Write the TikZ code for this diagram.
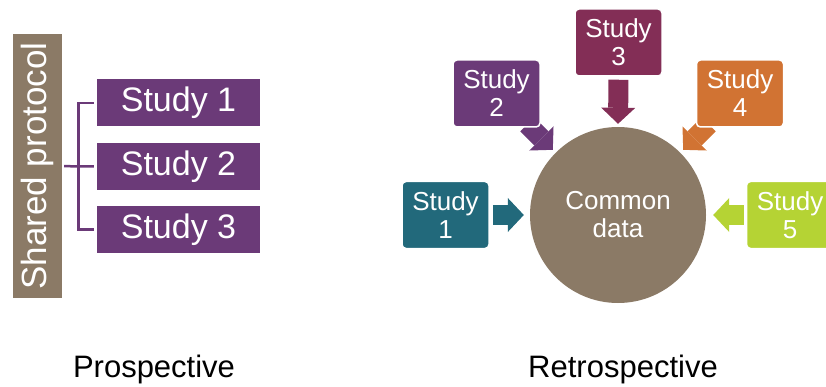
\documentclass[tikz,border=0pt]{standalone}
\usepackage{fontspec}
\setmainfont{Liberation Sans}
\usetikzlibrary{arrows.meta,calc}

\definecolor{protobrown}{HTML}{8B7A66}
\definecolor{studypurple}{HTML}{6B3A78}
\definecolor{studymaroon}{HTML}{832E56}
\definecolor{studyorange}{HTML}{D17333}
\definecolor{studylime}{HTML}{B5D334}
\definecolor{studyteal}{HTML}{22697B}

\begin{document}
\begin{tikzpicture}[x=1pt,y=-1pt,
  studybox/.style={fill=studypurple,text=white,minimum width=163pt,minimum height=47pt,inner sep=0pt,font=\fontsize{34}{40}\selectfont},
  roundbox/.style={fill=#1,draw=white,line width=1.5pt,rounded corners=4pt,text=white,minimum width=87pt,minimum height=67pt,inner sep=0pt,align=center,font=\fontsize{26}{28}\selectfont},
  bigarrow/.style={draw=#1,line width=20pt,-{Triangle[length=16pt,width=34pt,line width=0pt]}},
  bracket/.style={studypurple,line width=2.5pt}]

\useasboundingbox (0,0) rectangle (826,387);
\begin{scope}
\clip (0,0) rectangle (826,387);

% prospective
\node[fill=protobrown,rotate=90,minimum width=264pt,minimum height=49pt,inner sep=0pt,text=white,font=\fontsize{35}{40}\selectfont] (shared) at (37.5,166) {Shared protocol};
\foreach \n/\y in {1/103,2/166.5,3/229.5}
  \node[studybox] (p\n) at (178.5,\y) {Study \n};
\coordinate (fork) at (78.5,166.5);
\draw[bracket,shorten <=2pt,shorten >=3pt] (shared.south) -- (fork) -- (p2.west);
\draw[bracket,shorten <=3pt,shorten >=3pt] (p1.west) -| (fork) |- (p3.west);

% retrospective
\node[circle,fill=protobrown,minimum size=176pt,inner sep=0pt,text=white,align=center,font=\fontsize{26}{28}\selectfont] (data) at (618,215) {Common\\data};
\draw[bigarrow=studypurple,shorten >=4pt] ($(data.135)+(135:40pt)$) -- (data.135);
\draw[bigarrow=studyorange,shorten >=4pt] ($(data.45)+(45:40pt)$) -- (data.45);

\node[roundbox=studyteal] (s1) at (445.5,215) {Study\\1};
\node[roundbox=studypurple] (s2) at (496.5,93.5) {Study\\2};
\node[roundbox=studymaroon] (s3) at (618.5,42.5) {Study\\3};
\node[roundbox=studyorange] (s4) at (740,93.5) {Study\\4};
\node[roundbox=studylime] (s5) at (790,215) {Study\\5};

\draw[bigarrow=studyteal,shorten <=3pt,shorten >=6pt] (s1.east) -- (data.west);
\draw[bigarrow=studymaroon,shorten <=3pt,shorten >=3pt] (s3.south) -- (data.north);
\draw[bigarrow=studylime,shorten <=2pt,shorten >=7pt] (s5.west) -- (data.east);

\node[anchor=base,font=\fontsize{31}{36}\selectfont] (pro) at (154,377) {Prospective};
\node[anchor=base,font=\fontsize{31}{36}\selectfont] (retro) at (623,377) {Retrospective};
\end{scope}
\end{tikzpicture}
\end{document}
